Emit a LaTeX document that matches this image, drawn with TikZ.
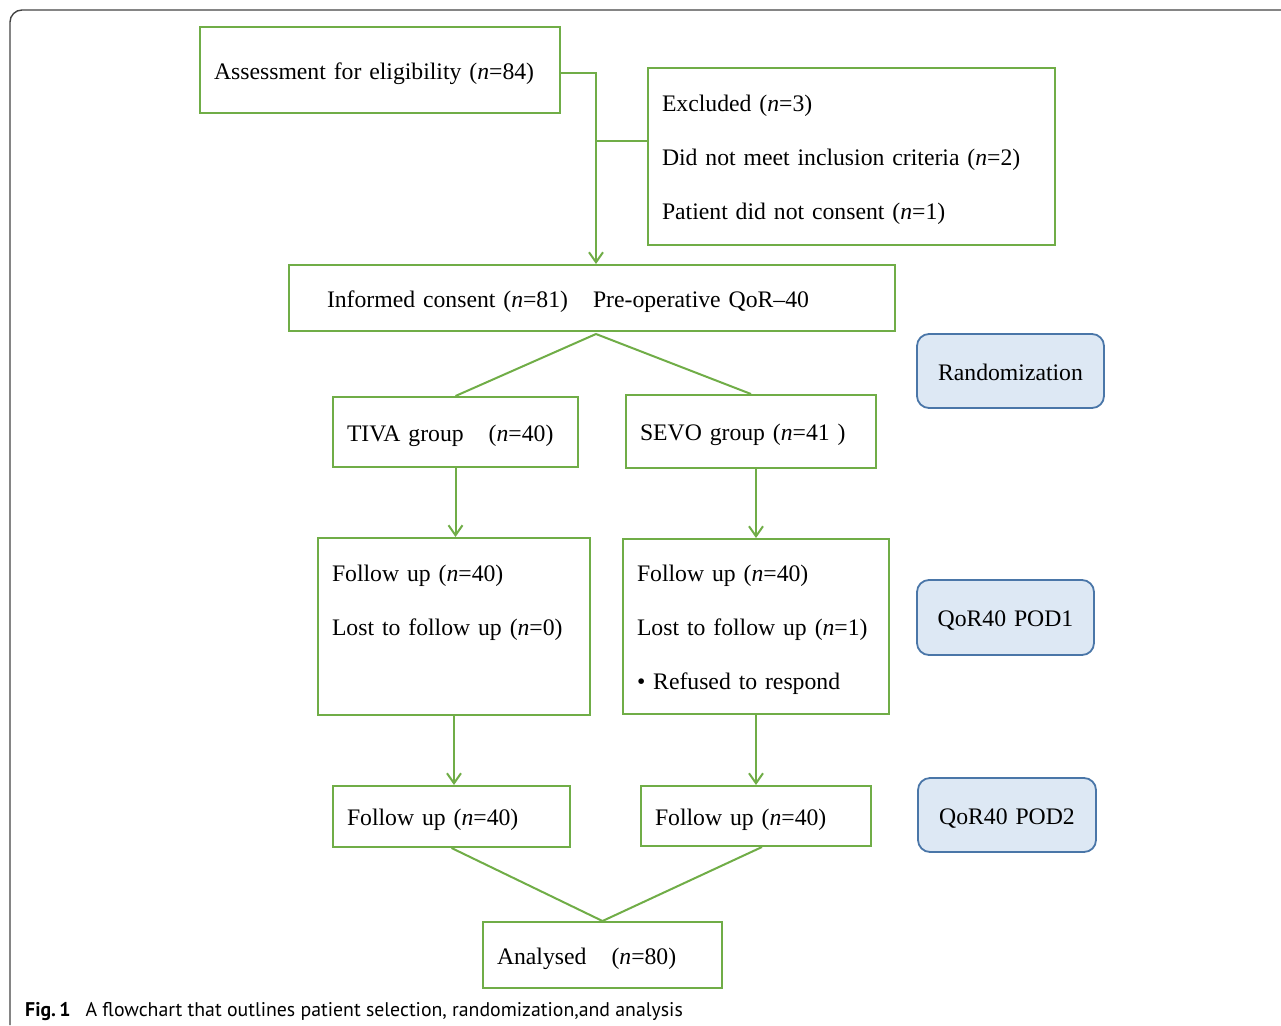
\documentclass[tikz,border=0pt]{standalone}
\usepackage{fontspec}
\setmainfont{Liberation Serif}
\newfontfamily\capfont{PT Sans}
\usetikzlibrary{arrows.meta,calc}
\definecolor{boxgreen}{HTML}{70AD47}
\definecolor{blfill}{HTML}{DDE8F4}
\definecolor{bldraw}{HTML}{4A76A8}
\definecolor{framegray}{HTML}{444444}
\newcommand{\topstrut}{\rule[-6pt]{0pt}{30pt}}
\newcommand{\botstrut}{\rule[-6pt]{0pt}{6pt}}
\tikzset{
  gbox/.style={draw=boxgreen, line width=2pt, inner xsep=14pt, inner ysep=0pt, align=left,
    font=\fontsize{23.7}{54}\selectfont,
    execute at begin node={\topstrut}, execute at end node={\botstrut}},
  bbox/.style={draw=bldraw, fill=blfill, line width=1.8pt, rounded corners=12pt, align=center,
    inner xsep=4pt, inner ysep=0pt, font=\fontsize{23.7}{29}\selectfont,
    execute at begin node={\topstrut}, execute at end node={\botstrut}},
  link/.style={draw=boxgreen, line width=2pt},
  arr/.style={link, -{Straight Barb[length=10pt,width=14pt,line width=2pt]}},
}
\newcommand{\gn}{\textit{n}}
\begin{document}
\begin{tikzpicture}[x=1pt,y=-1pt]
\useasboundingbox (0,0) rectangle (1281,1025);
\draw[framegray, line width=1.4pt, rounded corners=12pt] (1281,10) -- (10,10) -- (10,1025);

\node[gbox, minimum width=360, minimum height=86, text width=332] (assess) at (380,70) {Assessment for eligibility (\gn=84)};
\node[gbox, minimum width=407, minimum height=177, text width=379] (excl) at (851.5,156.5)
  {Excluded (\gn=3)\\Did not meet inclusion criteria (\gn=2)\\Patient did not consent (\gn=1)};
\node[gbox, minimum width=606, minimum height=66, text width=530, inner xsep=38pt] (consent) at (592,298)
  {Informed consent (\gn=81)\hspace{25pt}Pre-operative QoR--40};
\node[bbox, minimum width=187, minimum height=74, text width=179] (rand) at (1010.5,371) {Randomization};
\node[gbox, minimum width=245, minimum height=70, text width=217] (tiva) at (455.5,432) {TIVA group\hspace{25pt}(\gn=40)};
\node[gbox, minimum width=250, minimum height=73, text width=222] (sevo) at (751,431.5) {SEVO group (\gn=41 )};
\node[gbox, minimum width=272, minimum height=177, text width=244] (ful) at (454,626.5)
  {Follow up (\gn=40)\\Lost to follow up (\gn=0)\\\phantom{\textbullet\ Refused to respond}};
\node[gbox, minimum width=266, minimum height=175, text width=238] (fur) at (756,626.5)
  {Follow up (\gn=40)\\Lost to follow up (\gn=1)\\\textbullet\ Refused to respond};
\node[bbox, minimum width=177, minimum height=75, text width=169] (pod1) at (1005.5,617.5) {QoR40 POD1};
\node[gbox, minimum width=237, minimum height=61, text width=209] (fl2) at (451.5,816.5) {Follow up (\gn=40)};
\node[gbox, minimum width=230, minimum height=60, text width=202] (fr2) at (756,816) {Follow up (\gn=40)};
\node[bbox, minimum width=178, minimum height=74, text width=170] (pod2) at (1007,815) {QoR40 POD2};
\node[gbox, minimum width=239, minimum height=66, text width=211] (anal) at (602.5,955) {Analysed\hspace{25pt}(\gn=80)};

\node[anchor=base west, inner sep=0pt, font=\capfont\fontsize{19.8}{23}\selectfont] (cap) at (25,1016)
  {\textbf{Fig.\,1}\hspace{15pt}A flowchart that outlines patient selection, randomization,and analysis};

% connectors
\coordinate (jx) at (596,141);
\coordinate (split) at (596,334);
\draw[arr] ($(assess.east)+(0,3)$) -| (jx |- consent.north);
\draw[link] (jx) -- (jx -| excl.west);
\draw[link] (split) -- (tiva.north);
\draw[link] (split) -- (sevo.north);
\draw[arr] (tiva.south) -- (tiva.south |- ful.north);
\draw[arr] (fur.north |- sevo.south) -- (fur.north);
\draw[arr] (ful.south) -- (ful.south |- fl2.north);
\draw[arr] (fur.south) -- (fr2.north);
\draw[link] (fl2.south) -- (anal.north);
\draw[link] ($(fr2.south)+(6,0)$) -- (anal.north);
\end{tikzpicture}
\end{document}
